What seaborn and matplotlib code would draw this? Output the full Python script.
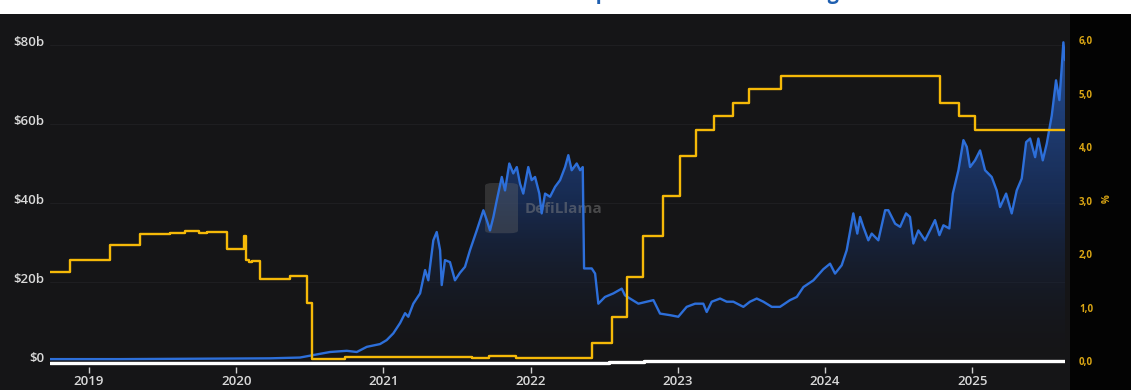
import numpy as np
import pandas as pd
import matplotlib
matplotlib.use("Agg")
import matplotlib.pyplot as plt
import matplotlib.transforms as mtransforms
from matplotlib.patches import Rectangle, FancyBboxPatch
from matplotlib.colors import LinearSegmentedColormap
import seaborn as sns

# ---------------- data ----------------
title = "Stablecoin market cap vs. interest rate during 2018\u20132025"

year_ticks = [2019, 2020, 2021, 2022, 2023, 2024, 2025]
year_labels = ["2019", "2020", "2021", "2022", "2023", "2024", "2025"]
usd_ticks = [0, 20, 40, 60, 80]
usd_labels = ["$0", "$20b", "$40b", "$60b", "$80b"]
pct_ticks = [0, 1, 2, 3, 4, 5, 6]
pct_labels = ["0,0", "1,0", "2,0", "3,0", "4,0", "5,0", "6,0"]

# stablecoin market cap ($b)
mcap_t = [2018.735, 2019.211, 2019.754, 2020.230, 2020.433, 2020.522, 2020.637, 2020.751,
          2020.819, 2020.887, 2020.977, 2021.022, 2021.067, 2021.113, 2021.147, 2021.169,
          2021.203, 2021.249, 2021.283, 2021.305, 2021.339, 2021.362, 2021.385, 2021.396,
          2021.418, 2021.452, 2021.486, 2021.520, 2021.554, 2021.588, 2021.634, 2021.679,
          2021.702, 2021.724, 2021.747, 2021.770, 2021.804, 2021.826, 2021.855, 2021.882,
          2021.906, 2021.928, 2021.950, 2021.984, 2022.007, 2022.030, 2022.059, 2022.075,
          2022.098, 2022.132, 2022.166, 2022.200, 2022.234, 2022.256, 2022.279, 2022.313,
          2022.336, 2022.354, 2022.363, 2022.392, 2022.415, 2022.438, 2022.460, 2022.505,
          2022.562, 2022.619, 2022.641, 2022.675, 2022.732, 2022.789, 2022.834, 2022.879,
          2022.947, 2023.003, 2023.060, 2023.117, 2023.173, 2023.196, 2023.230, 2023.287,
          2023.332, 2023.377, 2023.445, 2023.490, 2023.536, 2023.581, 2023.638, 2023.694,
          2023.762, 2023.808, 2023.853, 2023.921, 2023.988, 2024.034, 2024.068, 2024.113,
          2024.147, 2024.192, 2024.219, 2024.238, 2024.260, 2024.294, 2024.317, 2024.362,
          2024.408, 2024.430, 2024.476, 2024.510, 2024.550, 2024.577, 2024.600, 2024.634,
          2024.679, 2024.713, 2024.747, 2024.777, 2024.804, 2024.844, 2024.868, 2024.906,
          2024.940, 2024.963, 2024.985, 2025.019, 2025.053, 2025.087, 2025.132, 2025.166,
          2025.189, 2025.230, 2025.268, 2025.302, 2025.336, 2025.366, 2025.393, 2025.427,
          2025.449, 2025.479, 2025.506, 2025.540, 2025.569, 2025.592, 2025.608, 2025.619,
          2025.630]
mcap_v = [0.6, 0.6, 0.7, 0.8, 1.0, 1.6, 2.4, 2.7,
          2.4, 3.7, 4.4, 5.4, 7.1, 9.7, 12.2, 11.3,
          14.6, 17.2, 23.1, 20.5, 30.6, 32.7, 28.1, 19.3,
          25.6, 25.1, 20.5, 22.4, 23.9, 28.1, 33.1, 38.2,
          35.7, 33.1, 36.5, 40.7, 46.6, 43.2, 50.0, 47.5,
          49.1, 44.9, 42.4, 49.1, 45.8, 46.6, 42.4, 37.4,
          42.4, 41.6, 44.1, 45.8, 49.1, 52.1, 48.3, 50.0,
          48.3, 49.1, 23.5, 23.5, 23.5, 22.2, 14.6, 16.3,
          17.2, 18.4, 16.7, 15.9, 14.6, 15.1, 15.5, 12.1,
          11.7, 11.3, 13.8, 14.6, 14.6, 12.5, 15.1, 15.9,
          15.1, 15.1, 13.8, 15.1, 15.9, 15.1, 13.8, 13.8,
          15.5, 16.3, 18.8, 20.5, 23.3, 24.7, 22.2, 24.3,
          28.1, 37.4, 32.3, 36.5, 34.0, 30.6, 32.3, 30.6,
          38.2, 38.2, 34.8, 34.0, 37.4, 36.5, 29.8, 33.1,
          30.6, 33.1, 35.7, 31.9, 34.4, 33.6, 42.4, 48.3,
          55.9, 54.2, 49.1, 50.8, 53.3, 48.3, 46.6, 43.2,
          39.0, 42.4, 37.4, 43.2, 46.2, 55.4, 56.3, 51.6,
          56.3, 50.8, 55.0, 62.1, 71.0, 66.0, 74.4, 80.6,
          76.1]

# interest rate (%)
rate_t = [2018.735, 2018.871, 2019.143, 2019.346, 2019.550, 2019.650, 2019.750, 2019.800,
          2019.935, 2020.053, 2020.067, 2020.090, 2020.110, 2020.162, 2020.365, 2020.479,
          2020.513, 2020.739, 2021.100, 2021.600, 2021.720, 2021.900, 2022.415, 2022.551,
          2022.653, 2022.762, 2022.902, 2023.015, 2023.124, 2023.247, 2023.373, 2023.484,
          2023.699, 2024.781, 2024.912, 2025.019, 2025.630]
rate_v = [1.67, 1.89, 2.17, 2.38, 2.40, 2.43, 2.40, 2.42,
          2.10, 2.33, 1.89, 1.85, 1.88, 1.53, 1.59, 1.08,
          0.03, 0.08, 0.07, 0.06, 0.09, 0.05, 0.33, 0.83,
          1.58, 2.33, 3.08, 3.83, 4.33, 4.58, 4.83, 5.08,
          5.33, 4.83, 4.58, 4.33, 4.33]

# near-zero series along the baseline ($b)
base_t = [2018.735, 2019.150, 2019.945, 2022.470, 2022.530, 2022.770, 2025.630]
base_v = [-0.50, -0.33, -0.45, -0.35, -0.08, 0.10, 0.10]

# ---------------- style ----------------
PANEL = "#151517"
BLUE = "#2D6FDA"
GOLD = "#F5B908"
GOLD_TXT = "#D9A514"
TXT = "#D9D9D9"

sns.set_theme(style="dark")
plt.rcParams['font.family'] = ['Open Sans', 'DejaVu Sans']

W, H = 1131, 390
fig = plt.figure(figsize=(W / 100, H / 100), dpi=100, facecolor="white")
fig.patches.append(Rectangle((0, 0), 1, 376 / H, transform=fig.transFigure,
                             facecolor="#030303", edgecolor="none", zorder=-10))
fig.patches.append(Rectangle((0, 0), 1070 / W, 376 / H, transform=fig.transFigure,
                             facecolor=PANEL, edgecolor="none", zorder=-9))

ax = fig.add_axes([50 / W, (H - 367) / H, 1015 / W, 337 / H])
ax.set_facecolor("none")
ax.patch.set_visible(False)

x0, x1 = 2018.735, 2025.630
y_lo, y_hi = -1.389, 83.71
r_lo, r_hi = -0.112, 6.193

# gradient area under market cap
poly = ax.fill_between(mcap_t, mcap_v, 0, color="none", lw=0)
cmap = LinearSegmentedColormap.from_list(
    "g", [(0.09, 0.10, 0.13, 0.0), (0.10, 0.20, 0.40, 0.75), (0.16, 0.36, 0.70, 0.85)])
grad = np.linspace(0, 1, 256).reshape(-1, 1)
im = ax.imshow(grad, extent=[x0, x1, 0, 82], origin="lower", aspect="auto",
               cmap=cmap, zorder=1, interpolation="bilinear")
im.set_clip_path(poly.get_paths()[0], transform=ax.transData)

df_m = pd.DataFrame({"t": mcap_t, "v": mcap_v})
sns.lineplot(data=df_m, x="t", y="v", ax=ax, color=BLUE, lw=1.7, estimator=None, zorder=3)

ax.set_xlim(x0, x1)
ax.set_ylim(y_lo, y_hi)
ax.set_xlabel("")
ax.set_ylabel("")
ax.set_xticks(year_ticks)
ax.set_xticklabels(year_labels)
ax.set_yticks(usd_ticks)
ax.set_yticklabels(usd_labels)
ax.grid(False)
ax.yaxis.grid(True, color="#202024", lw=0.6)
for s in ax.spines.values():
    s.set_visible(False)
ax.tick_params(axis="x", colors="#CFCFCF", labelcolor=TXT, length=4, width=1,
               direction="out", pad=2, labelsize=9.5, bottom=True)
ax.tick_params(axis="y", length=0, labelcolor=TXT, labelsize=9.5, pad=4)
for lab in ax.get_xticklabels() + ax.get_yticklabels():
    lab.set_fontweight("semibold")
offset = mtransforms.ScaledTranslation(0, 4 / 100, fig.dpi_scale_trans)
for lab in ax.get_yticklabels():
    lab.set_transform(lab.get_transform() + offset)

# watermark
ax.add_patch(FancyBboxPatch((0.4286, 0.397), 0.0325, 0.149, boxstyle="round,pad=0,rounding_size=0.008",
                            transform=ax.transAxes, facecolor="#6a6a6a", alpha=0.35,
                            edgecolor="none", zorder=2))
ax.text(0.468, 0.469, "DefiLlama", transform=ax.transAxes, color="#8a8a8a", alpha=0.45,
        fontsize=11, fontweight="bold", va="center", ha="left", zorder=2)

# interest-rate axis
ax2 = ax.twinx()
df_r = pd.DataFrame({"t": rate_t, "v": rate_v})
sns.lineplot(data=df_r, x="t", y="v", ax=ax2, color=GOLD, lw=1.7, estimator=None,
             drawstyle="steps-post", zorder=5)
ax2.set_xlim(x0, x1)
ax2.set_ylim(r_lo, r_hi)
ax2.set_xlabel("")
ax2.set_yticks(pct_ticks)
ax2.set_yticklabels(pct_labels)
ax2.grid(False)
for s in ax2.spines.values():
    s.set_visible(False)
ax2.tick_params(axis="y", length=0, labelcolor=GOLD_TXT, labelsize=7, pad=10)
for lab in ax2.get_yticklabels():
    lab.set_fontweight("bold")
ax2.set_ylabel("%", color=GOLD_TXT, fontsize=7, fontweight="bold", labelpad=6)

# base line drawn on top of everything
df_b = pd.DataFrame({"t": base_t, "v": base_v})
ax3 = ax.twinx()
sns.lineplot(data=df_b, x="t", y="v", ax=ax3, color="white", lw=2.4, estimator=None,
             drawstyle="steps-post", zorder=6)
ax3.set_ylim(y_lo, y_hi)
ax3.set_xlim(x0, x1)
ax3.axis("off")

# title (cropped at the top of the image, as in the source)
fig.text(0.589, 1 + 1.5 / H, title, color="#1F5FB0", fontsize=14.2, fontweight="bold",
         ha="center", va="baseline")

fig.savefig("out.png", dpi=100, facecolor=fig.get_facecolor())
